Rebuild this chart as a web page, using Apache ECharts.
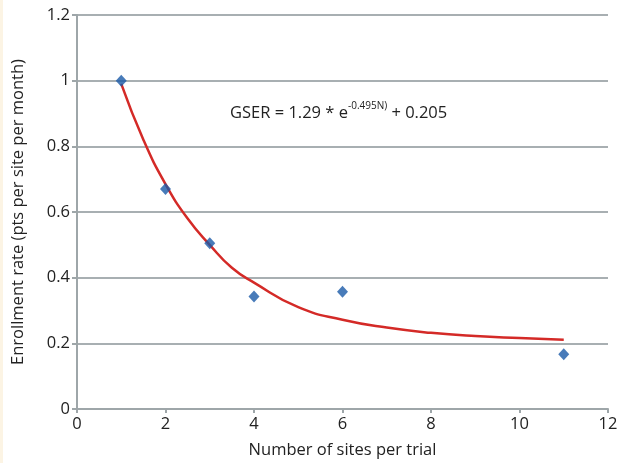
<!DOCTYPE html>
<html>
<head>
<meta charset="utf-8">
<script src="https://cdn.jsdelivr.net/npm/echarts@6/dist/echarts.min.js"></script>
<style>
  html, body { margin: 0; padding: 0; background: #fff; }
  #main { width: 621px; height: 463px; border-left: 3px solid #fcf4e4; }
</style>
</head>
<body>
<div id="main"></div>
<script>
// observed trial data
var sites = [1, 2, 3, 4, 6, 11];
var rates = [1.0, 0.67, 0.505, 0.343, 0.357, 0.167];

// fitted curve
var curveX = [1, 1.5, 2, 2.5, 3, 3.5, 4, 5, 6, 7, 8, 9, 10, 11];
var curveY = [0.99, 0.82, 0.685, 0.58, 0.5, 0.43, 0.385, 0.31, 0.272, 0.248, 0.232, 0.222, 0.216, 0.211];

var yTicks = [0, 0.2, 0.4, 0.6, 0.8, 1, 1.2];

var chart = echarts.init(document.getElementById("main"));

var option = {
  animation: false,
  backgroundColor: "#fff",
  textStyle: { fontFamily: "Open Sans" },
  grid: { left: 74, right: 16, top: 15, bottom: 54, outerBoundsMode: "none", containLabel: false },
  xAxis: {
    type: "value",
    min: 0,
    max: 12,
    interval: 2,
    name: "Number of sites per trial",
    nameLocation: "middle",
    nameGap: 33,
    nameTextStyle: { color: "#222", fontSize: 16.5 },
    axisLine: { lineStyle: { color: "#9ea6a9", width: 2 } },
    axisTick: { show: true, length: 4, lineStyle: { color: "#9ea6a9", width: 2 } },
    axisLabel: { color: "#222", fontSize: 16.5, margin: 7 },
    splitLine: { show: false }
  },
  yAxis: {
    type: "value",
    min: 0,
    max: 1.2,
    interval: 0.2,
    name: "Enrollment rate (pts per site per month)",
    nameLocation: "middle",
    nameGap: 50,
    nameTextStyle: { color: "#222", fontSize: 16.5 },
    axisLine: { show: true, lineStyle: { color: "#9ea6a9", width: 2 } },
    axisTick: { show: true, length: 5, lineStyle: { color: "#9ea6a9", width: 2 } },
    axisLabel: {
      color: "#222",
      fontSize: 16.5,
      margin: 7,
      formatter: function (v) {
        var t = yTicks.find(function (k) { return Math.abs(k - v) < 1e-6; });
        return String(t);
      }
    },
    splitLine: { show: true, lineStyle: { color: "#a8afb2", width: 2 } }
  },
  series: [
    {
      name: "fit",
      type: "line",
      data: curveX.map(function (x, i) { return [x, curveY[i]]; }),
      smooth: true,
      showSymbol: false,
      lineStyle: { color: "#d42a27", width: 2.5 },
      z: 2
    },
    {
      name: "trials",
      type: "scatter",
      data: sites.map(function (x, i) { return [x, rates[i]]; }),
      symbol: "diamond",
      symbolSize: [11, 12],
      itemStyle: { color: "#1a5aa8" },
      z: 3
    }
  ],
  graphic: [
    {
      type: "text",
      left: 227,
      top: 101,
      style: {
        text: "{m|GSER = 1.29 * e}{s|-0.495N)}{m| + 0.205}",
        rich: {
          m: { fontSize: 16.5, fill: "#222", fontFamily: "Open Sans", verticalAlign: "bottom", lineHeight: 21 },
          s: { fontSize: 10, fill: "#222", fontFamily: "Open Sans", verticalAlign: "top", padding: [0, 0, 9, 0], lineHeight: 21 }
        }
      }
    }
  ]
};

chart.setOption(option);
</script>
</body>
</html>
